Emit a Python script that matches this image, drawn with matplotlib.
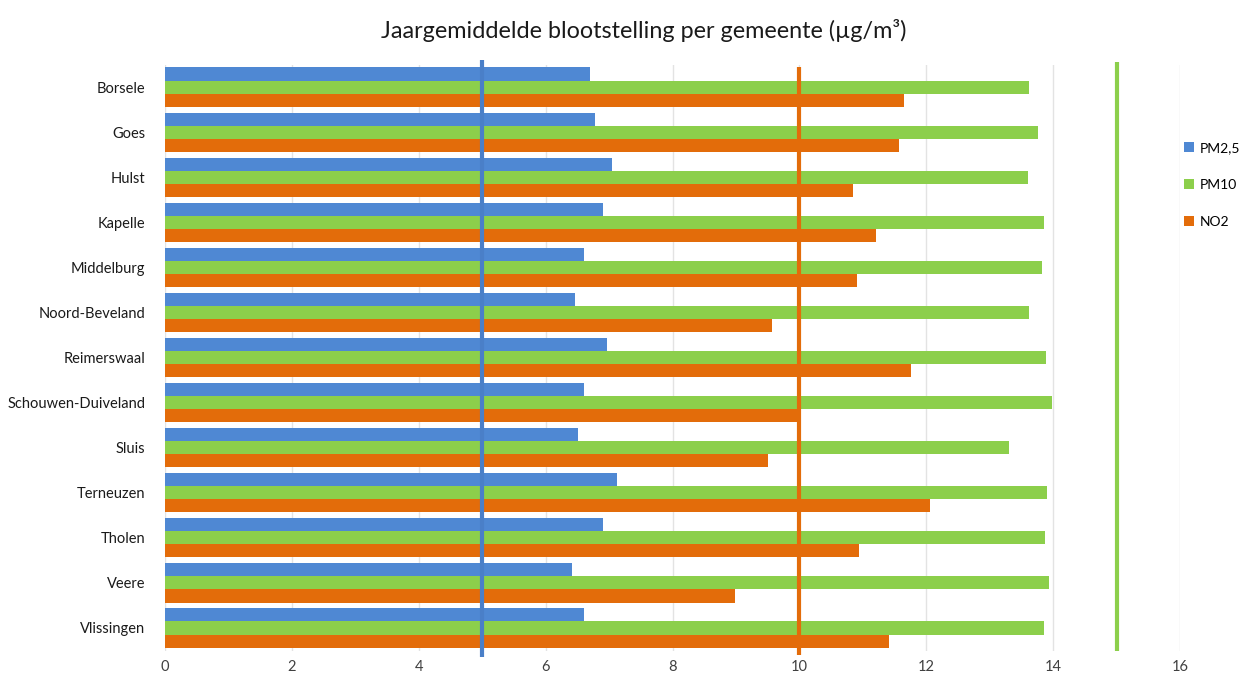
import matplotlib
matplotlib.use("Agg")
import matplotlib.pyplot as plt
import numpy as np

# gemeenten (boven naar beneden)
gemeenten = [
    "Borsele", "Goes", "Hulst", "Kapelle", "Middelburg", "Noord-Beveland",
    "Reimerswaal", "Schouwen-Duiveland", "Sluis", "Terneuzen", "Tholen",
    "Veere", "Vlissingen",
]

# jaargemiddelden in µg/m3
pm25 = [6.70, 6.78, 7.05, 6.90, 6.60, 6.46, 6.96, 6.61, 6.51, 7.12, 6.90, 6.41, 6.61]
pm10 = [13.62, 13.76, 13.60, 13.86, 13.83, 13.62, 13.89, 13.98, 13.31, 13.91, 13.87, 13.94, 13.85]
no2 = [11.65, 11.57, 10.85, 11.21, 10.91, 9.57, 11.76, 10.0, 9.50, 12.06, 10.94, 8.99, 11.41]

# advieswaarden (verticale lijnen)
norm_pm25 = 5
norm_no2 = 10
norm_pm10 = 15

x_ticks = [0, 2, 4, 6, 8, 10, 12, 14, 16]

BLUE = "#4f88d3"
GREEN = "#8ccf4b"
ORANGE = "#e36c0a"

plt.rcParams["font.family"] = ["Lato", "DejaVu Sans"]

fig = plt.figure(figsize=(12.47, 6.77), dpi=100)
ax = fig.add_axes([0.1323, 0.0391, 0.8140, 0.8656])

y = np.arange(len(gemeenten))
h = 0.29
ax.barh(y - h, pm25, height=h, color=BLUE, label="PM2,5", zorder=2)
ax.barh(y, pm10, height=h, color=GREEN, label="PM10", zorder=2)
ax.barh(y + h, no2, height=h, color=ORANGE, label="NO2", zorder=2)

# normlijnen lopen iets buiten het plotgebied door
n = len(gemeenten)
ax.plot([norm_pm25, norm_pm25], [-0.6, n - 0.35], color="#4a7fc8",
        lw=3, zorder=3, clip_on=False, solid_capstyle="butt")
ax.plot([norm_no2, norm_no2], [-0.45, n - 0.4], color=ORANGE,
        lw=3, zorder=3, clip_on=False, solid_capstyle="butt")
ax.plot([norm_pm10, norm_pm10], [-0.55, n - 0.5], color=GREEN,
        lw=3, zorder=3, clip_on=False, solid_capstyle="butt")

ax.set_xlim(0, 16)
ax.set_ylim(n - 0.5, -0.5)
ax.set_xticks(x_ticks)
ax.set_xticklabels([str(t) for t in x_ticks], fontsize=10.5, color="#404040")
ax.set_yticks(y)
ax.set_yticklabels(gemeenten, fontsize=10.5, color="#1a1a1a")
ax.tick_params(length=0, pad=7)
ax.tick_params(axis="y", pad=14)
ax.grid(axis="x", color="#e3e3e3", lw=1, zorder=0)
for s in ax.spines.values():
    s.set_visible(False)

fig.suptitle("Jaargemiddelde blootstelling per gemeente (µg/m³)",
             x=0.516, y=0.972, fontsize=16.8, color="#1a1a1a")

leg = ax.legend(loc="upper left", bbox_to_anchor=(1.004, 0.868), frameon=False,
                fontsize=10, handlelength=0.7, handleheight=0.7,
                handletextpad=0.4, labelspacing=1.8,
                borderaxespad=0, borderpad=0)

fig.savefig("out.png", dpi=100)
